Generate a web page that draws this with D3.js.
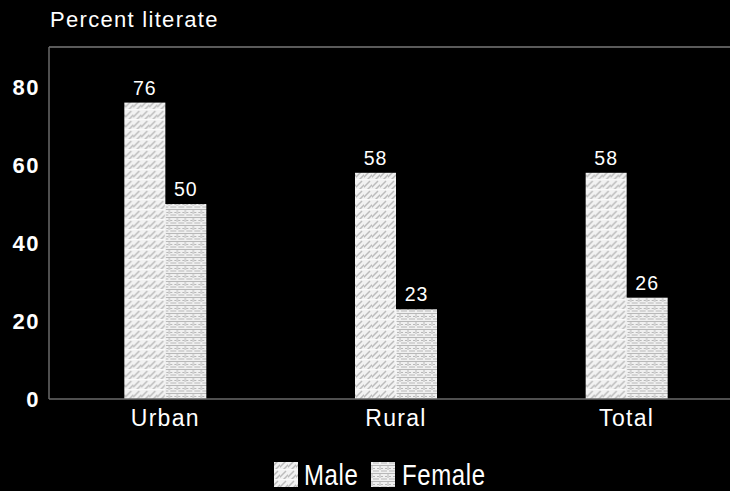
<!DOCTYPE html>
<html>
<head>
<meta charset="utf-8">
<script src="https://cdn.jsdelivr.net/npm/d3@7/dist/d3.min.js"></script>
<style>
  html, body { margin: 0; padding: 0; background: #000; }
  svg { display: block; }
  text { font-family: "Liberation Sans", Arial, sans-serif; fill: #fff; }
</style>
</head>
<body>
<svg id="chart" width="730" height="491"></svg>
<script>
const categories = ["Urban", "Rural", "Total"];
const seriesNames = ["Male", "Female"];
const maleValues = [76, 58, 58];
const femaleValues = [50, 23, 26];
const yTicks = [0, 20, 40, 60, 80];
const yTitle = "Percent literate";

const svg = d3.select("#chart");
const W = 730, H = 491;
const plot = { left: 49, right: 742, top: 47, bottom: 399 };

// Fill patterns for the two series
const defs = svg.append("defs");
const pm = defs.append("pattern").attr("id", "pat-male")
  .attr("patternUnits", "userSpaceOnUse").attr("width", 8).attr("height", 10);
pm.append("rect").attr("width", 8).attr("height", 10).attr("fill", "#f2f2f2");
pm.append("path").attr("d", "M-2,9 L6,1 M2,11 L10,3 M6,13 L14,5")
  .attr("stroke", "#bcbcbc").attr("stroke-width", 1.5).attr("fill", "none");
pm.append("rect").attr("y", 9).attr("width", 8).attr("height", 1).attr("fill", "#fafafa");

const pf = defs.append("pattern").attr("id", "pat-female")
  .attr("patternUnits", "userSpaceOnUse").attr("width", 8).attr("height", 8);
pf.append("rect").attr("width", 8).attr("height", 8).attr("fill", "#f0f0f0");
pf.append("path").attr("d", "M0,1.5 H8 M4,1.5 V6 M1,4.5 H3 M5,4.5 H7 M0,7 H3 M5,7 H8")
  .attr("stroke", "#b8b8b8").attr("stroke-width", 1).attr("fill", "none");
const fills = { Male: "url(#pat-male)", Female: "url(#pat-female)" };

const y = d3.scaleLinear().domain([0, 80]).range([plot.bottom, plot.bottom - 80 * 3.9]);
const x0 = d3.scaleBand().domain(categories).range([plot.left + 1, plot.right]).padding(0);
const barW = 41;
const x1 = d3.scaleBand().domain(seriesNames).range([-barW, barW]).padding(0);

// Frame lines
svg.append("line").attr("x1", plot.left).attr("x2", W).attr("y1", plot.top).attr("y2", plot.top)
  .attr("stroke", "#5a5a5a").attr("stroke-width", 2);
svg.append("line").attr("x1", plot.left).attr("x2", plot.left).attr("y1", plot.top).attr("y2", plot.bottom)
  .attr("stroke", "#6a6a6a").attr("stroke-width", 1.5);

// Y axis labels
const yAxis = d3.axisLeft(y).tickValues(yTicks).tickSize(0).tickPadding(9);
const gy = svg.append("g").attr("transform", `translate(${plot.left},0)`).call(yAxis);
gy.select(".domain").remove();
gy.selectAll("text").style("font-size", "22px").style("font-weight", "bold")
  .style("letter-spacing", "1.5px").attr("dy", "0.36em")
  .attr("fill", "#fff").style("font-family", "'Liberation Sans', Arial, sans-serif");

// Title
svg.append("text").attr("x", 50).attr("y", 27).style("font-size", "22px")
  .style("letter-spacing", "1.3px").text(yTitle);

// Bars
const rows = categories.map((c, i) => ({ cat: c, values: [
  { s: "Male", v: maleValues[i] }, { s: "Female", v: femaleValues[i] }
]}));
const groups = svg.append("g").selectAll("g").data(rows).join("g")
  .attr("transform", d => `translate(${x0(d.cat) + x0.bandwidth() / 2},0)`);
groups.selectAll("rect").data(d => d.values).join("rect")
  .attr("x", d => x1(d.s)).attr("width", x1.bandwidth())
  .attr("y", d => y(d.v)).attr("height", d => y(0) - y(d.v))
  .attr("fill", d => fills[d.s]);
groups.append("line").attr("x1", 0).attr("x2", 0)
  .attr("y1", d => y(Math.min(...d.values.map(v => v.v)))).attr("y2", y(0))
  .attr("stroke", "#fafafa").attr("stroke-width", 1);
groups.selectAll("text.val").data(d => d.values).join("text").attr("class", "val")
  .attr("x", d => x1(d.s) + x1.bandwidth() / 2).attr("y", d => y(d.v) - 8)
  .attr("text-anchor", "middle").style("font-size", "19.5px")
  .style("letter-spacing", "1px").text(d => d.v);

// Baseline
svg.append("line").attr("x1", plot.left).attr("x2", W).attr("y1", plot.bottom).attr("y2", plot.bottom)
  .attr("stroke", "#6a6a6a").attr("stroke-width", 1.5);

// Category labels
const xAxis = d3.axisBottom(x0).tickSize(0).tickPadding(11);
const gx = svg.append("g").attr("transform", `translate(0,${plot.bottom})`).call(xAxis);
gx.select(".domain").remove();
gx.selectAll("text").style("font-size", "23px").style("letter-spacing", "1.3px")
  .attr("fill", "#fff").style("font-family", "'Liberation Sans', Arial, sans-serif");

// Legend
const legendItems = [{ s: "Male", x: 274, tx: 304 }, { s: "Female", x: 371, tx: 402 }];
const lg = svg.append("g");
legendItems.forEach(it => {
  lg.append("rect").attr("x", it.x).attr("y", 462).attr("width", 24).attr("height", 25)
    .attr("fill", fills[it.s]);
  lg.append("text").attr("transform", `translate(${it.tx},485) scale(1,1.2)`)
    .style("font-size", "24px").style("letter-spacing", "0.6px").text(it.s);
});
</script>
</body>
</html>
